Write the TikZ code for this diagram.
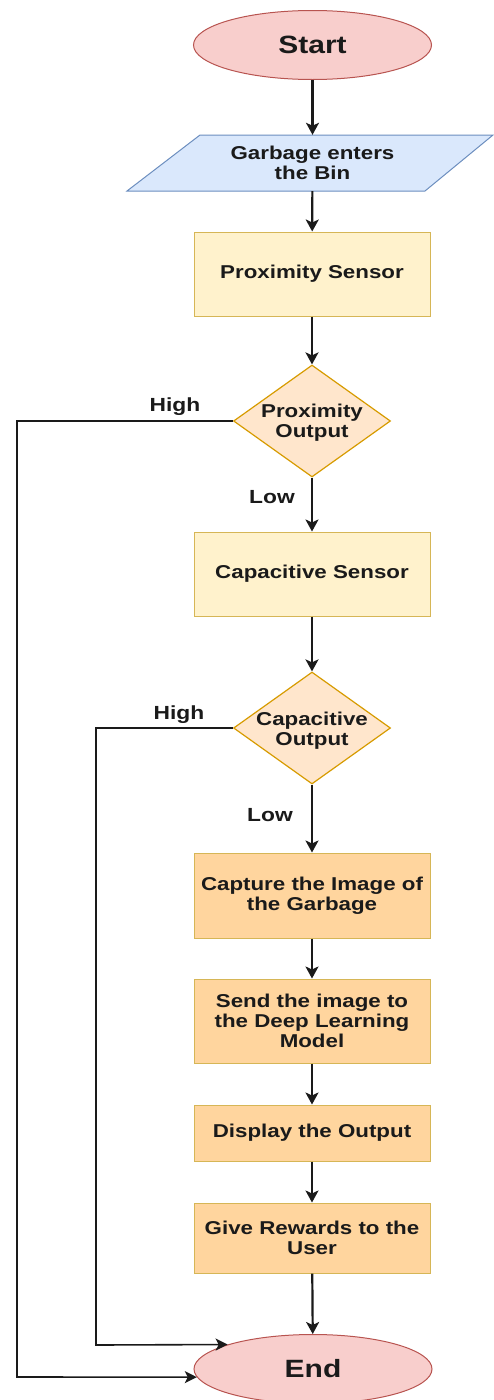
\documentclass[tikz,border=0pt]{standalone}
\usepackage{fontspec}
\setmainfont{Liberation Sans}[FakeStretch=1.2]
\usetikzlibrary{shapes.geometric,arrows.meta}
\definecolor{termfill}{HTML}{F8CECC}
\definecolor{termline}{HTML}{B85450}
\definecolor{iofill}{HTML}{DAE8FC}
\definecolor{ioline}{HTML}{6C8EBF}
\definecolor{sensfill}{HTML}{FFF2CC}
\definecolor{sensline}{HTML}{D6B656}
\definecolor{decfill}{HTML}{FFE6CC}
\definecolor{decline}{HTML}{D79B00}
\definecolor{procfill}{HTML}{FFD59E}
\definecolor{ink}{HTML}{1A1A1A}
\tikzset{
  txt/.style={font=\bfseries\fontsize{18.6}{20}\selectfont, text=ink, align=center},
  term/.style={ellipse, draw=termline, fill=termfill, line width=1pt, minimum width=238pt, minimum height=69pt, inner sep=0pt, font=\bfseries\fontsize{25}{28}\selectfont, text=ink},
  sensbox/.style={rectangle, draw=sensline, fill=sensfill, line width=1pt, minimum width=236pt, inner sep=0pt, txt},
  procbox/.style={rectangle, draw=sensline, fill=procfill, line width=1pt, minimum width=236pt, inner sep=0pt, txt},
  dec/.style={diamond, draw=decline, fill=decfill, line width=1.2pt, minimum width=157pt, minimum height=112pt, inner sep=0pt},
  flow/.style={draw=ink, line width=2.2pt, -{Stealth[length=12pt,width=13pt,inset=3pt]}},
  back/.style={draw=ink, line width=1.6pt, -{Stealth[length=12pt,width=12pt,inset=3pt]}},
  lbl/.style={font=\bfseries\fontsize{19}{22}\selectfont, text=ink}
}
\begin{document}
\begin{tikzpicture}[x=1pt,y=-1pt]
\useasboundingbox (0,0) rectangle (493,1400);
% nodes
\node[term] (start) at (312.5,45) {Start};
\draw[draw=ioline, fill=iofill, line width=1pt] (200,135) -- (493,135) -- (425,191) -- (127,191) -- cycle;
\node[txt, minimum height=56pt, inner sep=0pt] (garbage) at (312.5,163) {Garbage enters\\the Bin};
\node[sensbox, minimum height=84pt] (prox) at (312,274) {Proximity Sensor};
\node[dec] (pout) at (312,421) {};
\node[txt] (pouttxt) at (312,423) {Proximity\\Output};
\node[sensbox, minimum height=84pt] (caps) at (312,574) {Capacitive Sensor};
\node[dec] (cout) at (312,728) {};
\node[txt] (couttxt) at (312,731) {Capacitive\\Output};
\node[procbox, minimum height=85pt] (capture) at (312,895.5) {Capture the Image of\\the Garbage};
\node[procbox, minimum height=84pt] (send) at (312,1021) {Send the image to\\the Deep Learning\\Model};
\node[procbox, minimum height=56pt] (display) at (312,1133) {Display the Output};
\node[procbox, minimum height=70pt] (reward) at (312,1238) {Give Rewards to the\\User};
\node[term] (end) at (313,1369) {End};
% labels
\node[lbl] (high1) at (175,407) {High};
\node[lbl] (low1) at (272,497) {Low};
\node[lbl] (high2) at (179,715) {High};
\node[lbl] (low2) at (270,815) {Low};
% corner coordinates
\coordinate (c1) at (17,421);
\coordinate (c2) at (17,1377);
\coordinate (c3) at (96,728);
\coordinate (c4) at (96,1345);
% connectors
\draw[flow] (start) -- (garbage);
\draw[flow] (garbage) -- (prox);
\draw[flow] (prox) -- (pout);
\draw[flow] (pout) -- (caps);
\draw[flow] (caps) -- (cout);
\draw[flow] (cout) -- (capture);
\draw[flow] (capture) -- (send);
\draw[flow] (send) -- (display);
\draw[flow] (display) -- (reward);
\draw[flow] (reward) -- (end);
\draw[back] (pout.west) -- (c1) -- (c2) -- (end.184);
\draw[back] (cout.west) -- (c3) -- (c4) -- (end.164);
\end{tikzpicture}
\end{document}
